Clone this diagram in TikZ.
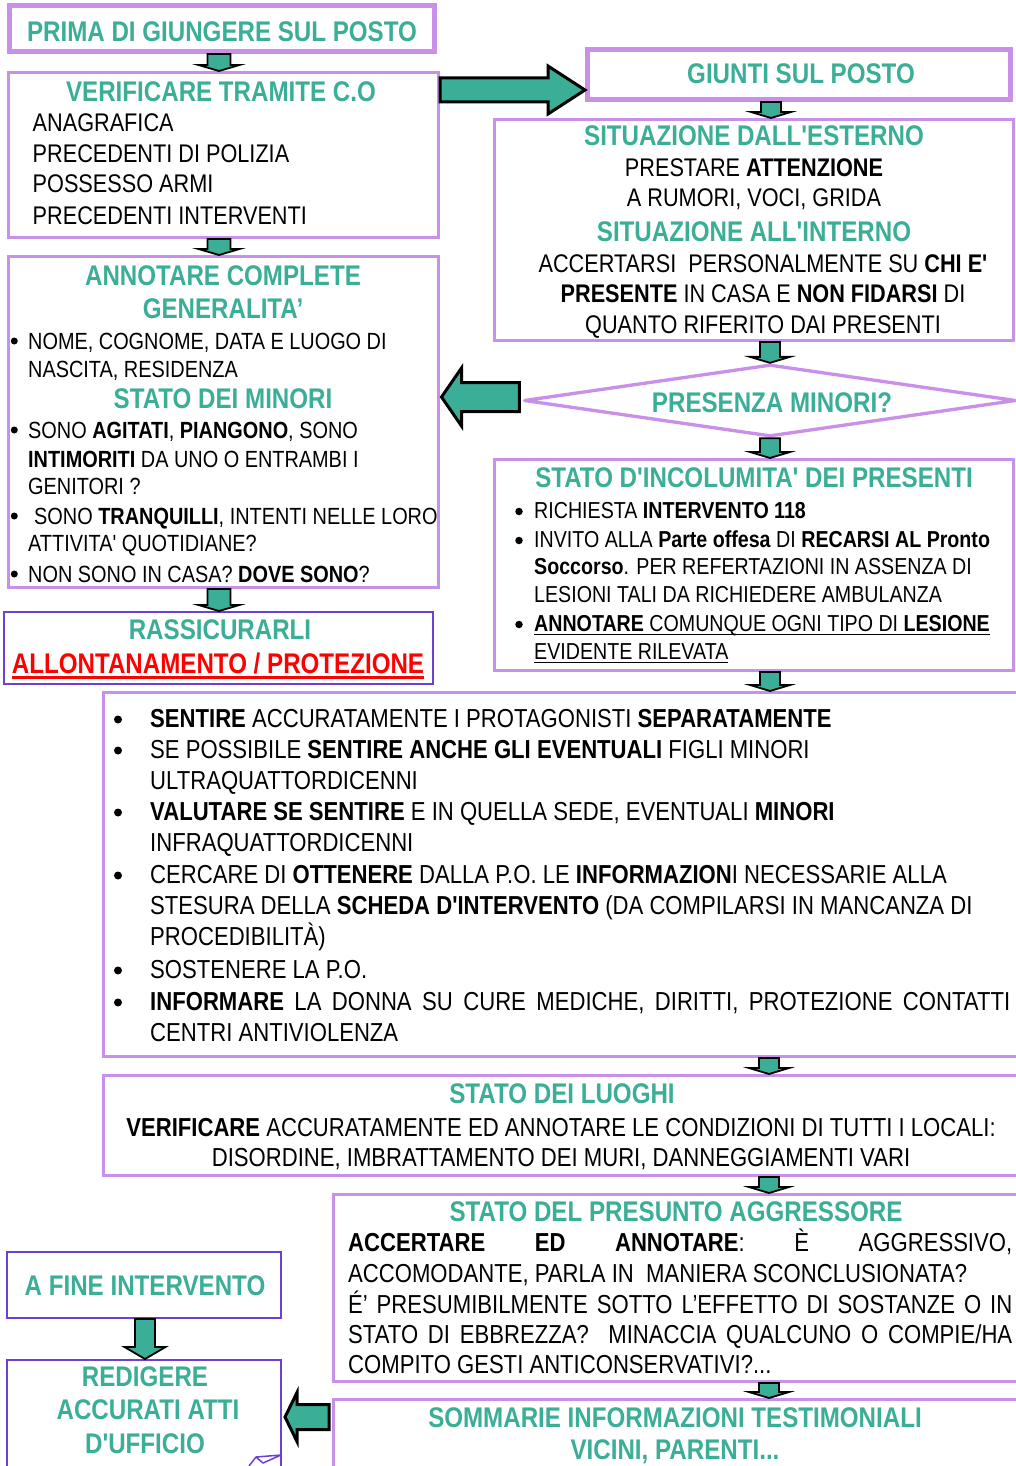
\documentclass[tikz,border=0pt]{standalone}
\usepackage{fontspec}
\newfontfamily\nf{Liberation Sans}[FakeStretch=0.85]
\usetikzlibrary{calc,shapes.geometric}
\definecolor{lil}{RGB}{200,144,232}
\definecolor{tealc}{RGB}{58,174,150}
\definecolor{dpur}{RGB}{108,64,210}
\newcommand\myul[3]{\setbox0\hbox{#3}\rlap{\rule[#1]{\wd0}{#2}}\box0}
\newcommand\dnarrow[6]{%
 \draw[arrfill] let \p1=(#1,0), \p2=(#2), \p3=(#3) in
 (\x1-#4pt,\y2) -- (\x1+#4pt,\y2) -- (\x1+#4pt,\y3+#6pt) -- (\x1+#5pt,\y3+#6pt)
 -- (\x1,\y3) -- (\x1-#5pt,\y3+#6pt) -- (\x1-#4pt,\y3+#6pt) -- cycle;}
\begin{document}
\begin{tikzpicture}[x=1pt,y=-1pt,
 box/.style={draw=lil,line width=3.3pt,rectangle,inner sep=0pt,anchor=north west},
 tbox/.style={box,line width=5pt},
 pbox/.style={box,draw=dpur,line width=2pt},
 arrfill/.style={fill=tealc,draw=black,line width=1.8pt,line join=miter},
 bigarr/.style={arrfill,line width=3pt},
 hd/.style={inner sep=0pt,text=tealc,font=\nf\fontsize{28.4}{31}\selectfont\bfseries,anchor=base},
 tx/.style={inner sep=0pt,font=\nf\fontsize{25.5}{31}\selectfont,anchor=base west},
 txc/.style={tx,anchor=base},
 tb/.style={tx,font=\nf\fontsize{26}{31}\selectfont},
 tbc/.style={tb,anchor=base},
 ta/.style={tx,font=\nf\fontsize{23.4}{29}\selectfont},
 ti/.style={tx,font=\nf\fontsize{23.1}{28}\selectfont},
 bul/.style={circle,fill=black,inner sep=0pt,minimum size=#1},
 bul/.default=7pt,
]
\useasboundingbox (0,0) rectangle (1016,1466);
\fill[white] (0,0) rectangle (1016,1466);
\clip (0,0) rectangle (1016,1466);

% boxes
\node[tbox,minimum width=425pt,minimum height=46pt] (B1) at (7,3) {};
\node[box,minimum width=429.7pt,minimum height=164.7pt] (B2) at (7,71) {};
\node[tbox,minimum width=423pt,minimum height=50pt] (G) at (585,47) {};
\node[box,minimum width=518.7pt,minimum height=220.7pt] (S) at (493,118) {};
\node[box,minimum width=429.7pt,minimum height=330.7pt] (A) at (7,255) {};
\node[pbox,minimum width=429pt,minimum height=72pt] (R) at (3,611) {};
\node[diamond,draw=lil,line width=3.3pt,line join=round,inner sep=0pt,
      minimum width=492pt,minimum height=72pt,aspect=6.8] (D) at (770,400.5) {};
\node[box,minimum width=518.7pt,minimum height=210.7pt] (I) at (493,458) {};
\node[box,minimum width=934.7pt,minimum height=363.7pt] (BL) at (102,691) {};
\node[box,minimum width=934.7pt,minimum height=99.7pt] (L) at (102,1074) {};
\node[box,minimum width=704.7pt,minimum height=186.7pt] (AG) at (332,1193) {};
\node[box,minimum width=704.7pt,minimum height=98.7pt] (SO) at (332,1398) {};
\node[pbox,minimum width=274pt,minimum height=66pt] (F) at (6,1251) {};
\node[pbox,minimum width=274pt,minimum height=139pt] (RE) at (6,1359) {};
\draw[dpur,line width=1.5pt,line join=round] (281,1455) -- (256,1457) -- (249,1466)
  (256,1457) -- (263,1463) -- (281,1455);

% arrows
\dnarrow{219}{B1.south}{B2.north}{11.5}{20.5}{6}
\dnarrow{219}{B2.south}{A.north}{11.5}{20.5}{6}
\dnarrow{219}{A.south}{R.north}{11.5}{20.5}{6}
\dnarrow{771}{G.south}{S.north}{10}{20}{6}
\dnarrow{770}{S.south}{D.north}{10}{20}{6}
\dnarrow{770}{D.south}{I.north}{10}{20}{6}
\dnarrow{770}{I.south}{BL.north}{10}{20}{6}
\dnarrow{769}{BL.south}{L.north}{10}{20}{6}
\dnarrow{769}{L.south}{AG.north}{10}{20}{6}
\dnarrow{769}{AG.south}{SO.north}{10}{20}{6}
\dnarrow{145}{F.south}{RE.north}{10}{20.5}{12}
\draw[bigarr] let \p1=(B2.east), \p2=(G.west), \p3=(0,90) in
 (\x1,\y3+12pt) -- (\x2-37pt,\y3+12pt) -- (\x2-37pt,\y3+24pt) -- (\x2,\y3)
 -- (\x2-37pt,\y3-24pt) -- (\x2-37pt,\y3-12pt) -- (\x1,\y3-12pt) -- cycle;
\draw[bigarr] let \p1=(D.west), \p2=(A.east), \p3=(0,397) in
 (\x1-3pt,\y3+14.5pt) -- (\x2+21.5pt,\y3+14.5pt) -- (\x2+21.5pt,\y3+29pt) -- (\x2+1.5pt,\y3)
 -- (\x2+21.5pt,\y3-29pt) -- (\x2+21.5pt,\y3-14.5pt) -- (\x1-3pt,\y3-14.5pt) -- cycle;
\draw[bigarr] let \p1=(SO.west), \p2=(RE.east), \p3=(0,1417) in
 (\x1-3pt,\y3+12.5pt) -- (\x2+15pt,\y3+12.5pt) -- (\x2+15pt,\y3+24.5pt) -- (\x2+3pt,\y3)
 -- (\x2+15pt,\y3-24.5pt) -- (\x2+15pt,\y3-12.5pt) -- (\x1-3pt,\y3-12.5pt) -- cycle;

% texts: top left
\node[hd] (t1) at (222,42) {PRIMA DI GIUNGERE SUL POSTO};
\node[hd] (t2) at (221,102) {VERIFICARE TRAMITE C.O};
\node[tx] (t3) at (32.5,132) {ANAGRAFICA};
\node[tx] (t4) at (32.5,163) {PRECEDENTI DI POLIZIA};
\node[tx] (t5) at (32.5,193) {POSSESSO ARMI};
\node[tx] (t6) at (32.5,224) {PRECEDENTI INTERVENTI};
% top right
\node[hd] (t7) at (801,84) {GIUNTI SUL POSTO};
\node[hd] (t8) at (754,146) {SITUAZIONE DALL'ESTERNO};
\node[txc] (t9) at (754,177) {PRESTARE \textbf{ATTENZIONE}};
\node[txc] (t10) at (754,207) {A RUMORI, VOCI, GRIDA};
\node[hd] (t11) at (754,241) {SITUAZIONE ALL'INTERNO};
\node[txc] (t12) at (763,272) {ACCERTARSI\ \ PERSONALMENTE SU \textbf{CHI E'}};
\node[txc] (t13) at (763,302) {\textbf{PRESENTE} IN CASA E \textbf{NON FIDARSI} DI};
\node[txc] (t14) at (763,333) {QUANTO RIFERITO DAI PRESENTI};
% annotare
\node[hd] (t15) at (223,285) {ANNOTARE COMPLETE};
\node[hd] (t16) at (223,318) {GENERALITA’};
\node[bul] (u1) at (14.3,341) {};
\node[ta] (t17) at (28,349) {NOME, COGNOME, DATA E LUOGO DI};
\node[ta] (t18) at (28,377) {NASCITA, RESIDENZA};
\node[hd] (t19) at (223,408) {STATO DEI MINORI};
\node[bul] (u2) at (14.3,430) {};
\node[ta] (t20) at (28,438) {SONO \textbf{AGITATI}, \textbf{PIANGONO}, SONO};
\node[ta] (t21) at (28,467) {\textbf{INTIMORITI} DA UNO O ENTRAMBI I};
\node[ta] (t22) at (28,494) {GENITORI ?};
\node[bul] (u3) at (14.3,516) {};
\node[ta] (t23) at (34,524) {SONO \textbf{TRANQUILLI}, INTENTI NELLE LORO};
\node[ta] (t24) at (28,551) {ATTIVITA' QUOTIDIANE?};
\node[bul] (u4) at (14.3,574) {};
\node[ta] (t25) at (28,582) {NON SONO IN CASA? \textbf{DOVE SONO}?};
% rassicurarli
\node[hd] (t26) at (220,639) {RASSICURARLI};
\node[hd,text=red] (t27) at (218,673) {\myul{-5.5pt}{2.5pt}{ALLONTANAMENTO / PROTEZIONE}};
% diamond
\node[hd] (t28) at (772,412) {PRESENZA MINORI?};
% incolumita
\node[hd] (t29) at (754,487) {STATO D'INCOLUMITA' DEI PRESENTI};
\node[bul=7.5pt] (u5) at (519,511.5) {};
\node[ti] (t30) at (534,518) {RICHIESTA \textbf{INTERVENTO 118}};
\node[bul=7.5pt] (u6) at (519,540.5) {};
\node[ti] (t31) at (534,547) {INVITO ALLA \textbf{Parte offesa} DI \textbf{RECARSI AL Pronto}};
\node[ti] (t32) at (534,574) {\textbf{Soccorso}. PER REFERTAZIONI IN ASSENZA DI};
\node[ti] (t33) at (534,602) {LESIONI TALI DA RICHIEDERE AMBULANZA};
\node[bul=7.5pt] (u7) at (519,624.5) {};
\node[ti] (t34) at (534,631) {\myul{-4pt}{1.5pt}{\textbf{ANNOTARE} COMUNQUE OGNI TIPO DI \textbf{LESIONE}}};
\node[ti] (t35) at (534,659) {\myul{-4pt}{1.5pt}{EVIDENTE RILEVATA}};
% bullets box
\node[bul=8pt] (u8) at (118,719.5) {};
\node[tb] (t36) at (150,727) {\textbf{SENTIRE} ACCURATAMENTE I PROTAGONISTI \textbf{SEPARATAMENTE}};
\node[bul=8pt] (u9) at (118,750.5) {};
\node[tb] (t37) at (150,758) {SE POSSIBILE \textbf{SENTIRE ANCHE GLI EVENTUALI} FIGLI MINORI};
\node[tb] (t38) at (150,789) {ULTRAQUATTORDICENNI};
\node[bul=8pt] (u10) at (118,812.5) {};
\node[tb] (t39) at (150,820) {\textbf{VALUTARE SE SENTIRE} E IN QUELLA SEDE, EVENTUALI \textbf{MINORI}};
\node[tb] (t40) at (150,851) {INFRAQUATTORDICENNI};
\node[bul=8pt] (u11) at (118,875.5) {};
\node[tb] (t41) at (150,883) {CERCARE DI \textbf{OTTENERE} DALLA P.O. LE \textbf{INFORMAZION}I NECESSARIE ALLA};
\node[tb] (t42) at (150,914) {STESURA DELLA \textbf{SCHEDA D'INTERVENTO} (DA COMPILARSI IN MANCANZA DI};
\node[tb] (t43) at (150,945) {PROCEDIBILITÀ)};
\node[bul=8pt] (u12) at (118,970.5) {};
\node[tb] (t44) at (150,978) {SOSTENERE LA P.O.};
\node[bul=8pt] (u13) at (118,1002.5) {};
\node[tb] (t45) at (150,1010) {\makebox[860pt][s]{\textbf{INFORMARE} LA DONNA SU CURE MEDICHE, DIRITTI, PROTEZIONE CONTATTI}};
\node[tb] (t46) at (150,1041) {CENTRI ANTIVIOLENZA};
% luoghi
\node[hd] (t47) at (562,1103) {STATO DEI LUOGHI};
\node[tbc] (t48) at (561,1136) {\textbf{VERIFICARE} ACCURATAMENTE ED ANNOTARE LE CONDIZIONI DI TUTTI I LOCALI:};
\node[tbc] (t49) at (561,1166) {DISORDINE, IMBRATTAMENTO DEI MURI, DANNEGGIAMENTI VARI};
% aggressore
\node[hd] (t50) at (676,1221) {STATO DEL PRESUNTO AGGRESSORE};
\node[tb] (t51) at (348,1251) {\makebox[664pt][s]{\textbf{ACCERTARE} \textbf{ED} \textbf{ANNOTARE}: È AGGRESSIVO,}};
\node[tb] (t52) at (348,1282) {ACCOMODANTE, PARLA IN\ \ MANIERA SCONCLUSIONATA?};
\node[tb] (t53) at (348,1313) {\makebox[664pt][s]{É’ PRESUMIBILMENTE SOTTO L’EFFETTO DI SOSTANZE O IN}};
\node[tb] (t54) at (348,1343) {\makebox[664pt][s]{STATO DI EBBREZZA?\ \ MINACCIA QUALCUNO O COMPIE/HA}};
\node[tb] (t55) at (348,1373) {COMPITO GESTI ANTICONSERVATIVI?...};
% sommarie
\node[hd] (t56) at (675,1427) {SOMMARIE INFORMAZIONI TESTIMONIALI};
\node[hd] (t57) at (675,1459) {VICINI, PARENTI...};
% fine
\node[hd] (t58) at (145,1295) {A FINE INTERVENTO};
\node[hd] (t59) at (145,1386) {REDIGERE};
\node[hd] (t60) at (148,1419) {ACCURATI ATTI};
\node[hd] (t61) at (145,1453) {D'UFFICIO};
\end{tikzpicture}
\end{document}
